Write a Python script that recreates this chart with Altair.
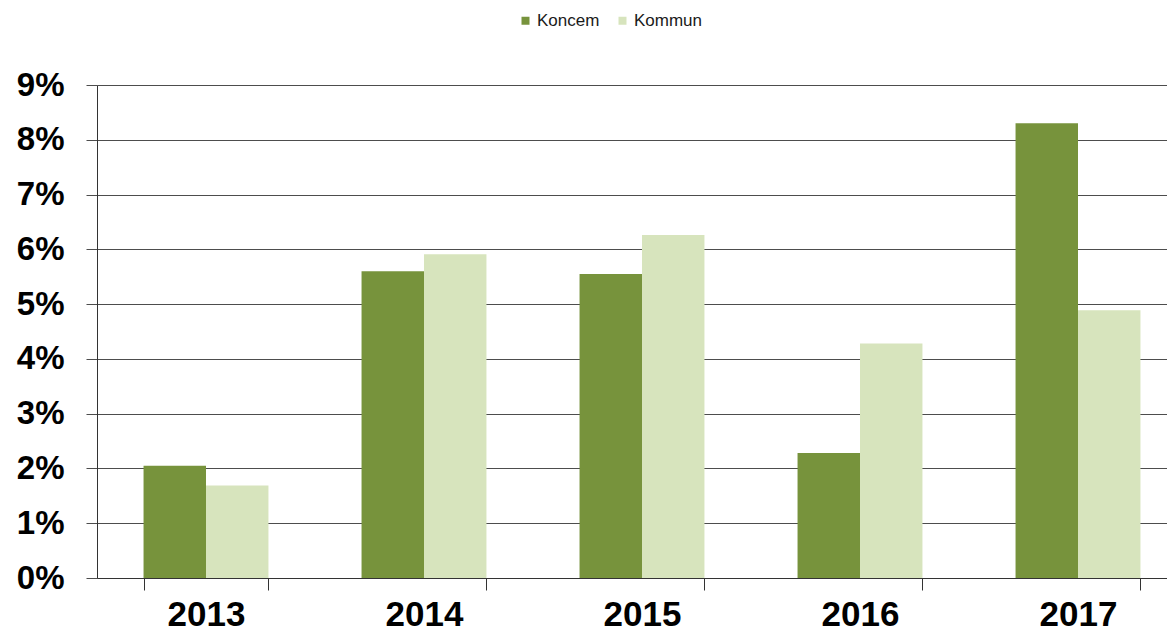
import altair as alt
import pandas as pd

years = ["2013", "2014", "2015", "2016", "2017"]
koncem = [0.0205, 0.0560, 0.0555, 0.0228, 0.0830]
kommun = [0.0169, 0.0591, 0.0626, 0.0428, 0.0489]
series = ["Koncem", "Kommun"]
colors = ["#77933C", "#D7E4BD"]
y_ticks = [0, 0.01, 0.02, 0.03, 0.04, 0.05, 0.06, 0.07, 0.08, 0.09]

rows = []
for i, yr in enumerate(years):
    rows.append({"year": yr, "series": "Koncem", "value": koncem[i]})
    rows.append({"year": yr, "series": "Kommun", "value": kommun[i]})
df = pd.DataFrame(rows)

FONT = "Liberation Sans"

chart = alt.Chart(df).mark_bar().encode(
    x=alt.X(
        "year:N",
        sort=years,
        scale=alt.Scale(range=[0, 1090], paddingInner=0.427, paddingOuter=0.2135),
        axis=alt.Axis(
            title=None,
            labelAngle=0,
            tickBand="extent",
            tickSize=12,
            tickColor="#333333",
            domainColor="#333333",
            labelFont=FONT,
            labelFontSize=35,
            labelFontWeight="bold",
            labelColor="#000000",
            labelPadding=7,
        ),
    ),
    xOffset=alt.XOffset("series:N", sort=series, scale=alt.Scale(paddingInner=0, paddingOuter=0)),
    y=alt.Y(
        "value:Q",
        scale=alt.Scale(domain=[0, 0.09], nice=False),
        axis=alt.Axis(
            title=None,
            values=y_ticks,
            format=".0%",
            grid=True,
            gridColor="#4d4d4d",
            gridWidth=1,
            tickSize=11,
            tickColor="#4d4d4d",
            domainColor="#333333",
            labelFont=FONT,
            labelFontSize=33,
            labelFontWeight="bold",
            labelColor="#000000",
            labelPadding=22,
        ),
    ),
    color=alt.Color(
        "series:N",
        sort=series,
        scale=alt.Scale(domain=series, range=colors),
        legend=alt.Legend(
            title=None,
            orient="none",
            legendX=420,
            legendY=-73,
            direction="horizontal",
            symbolType="square",
            symbolSize=64,
            symbolStrokeWidth=0,
            labelFont=FONT,
            labelFontSize=17,
            labelColor="#1a1a1a",
            labelOffset=3,
            columnPadding=14,
        ),
    ),
).properties(
    width=1070,
    height=493,
    autosize=alt.AutoSizeParams(type="none"),
    padding={"left": 89, "top": 77, "right": 0, "bottom": 50},
).configure_view(strokeWidth=0)

chart.save("out.html", embed_options={"renderer": "svg", "actions": False})
